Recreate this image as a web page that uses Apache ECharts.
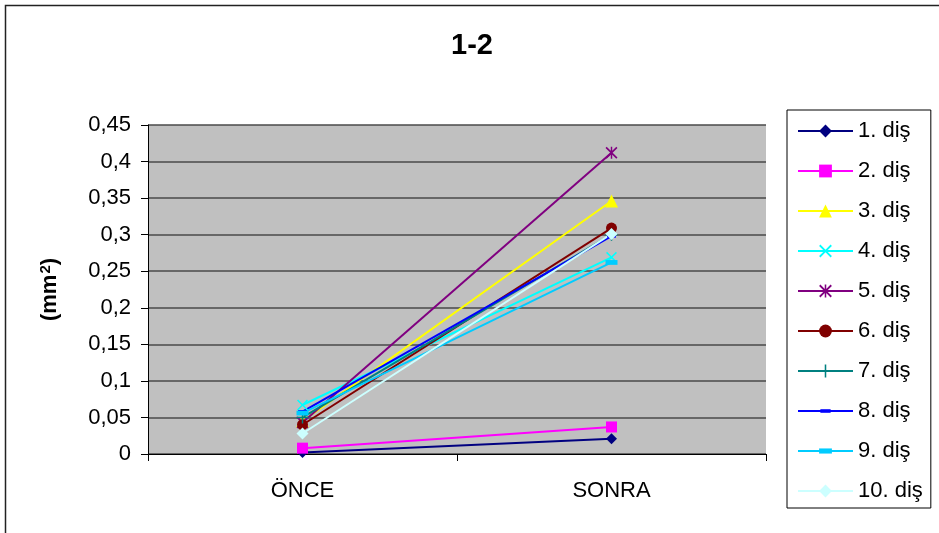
<!DOCTYPE html>
<html><head><meta charset="utf-8">
<script src="https://cdn.jsdelivr.net/npm/echarts@6/dist/echarts.min.js"></script>
<style>html,body{margin:0;padding:0;background:#fff}#c{width:939px;height:533px}</style>
</head><body><div id="c"></div>
<script>
var categories = ['ÖNCE', 'SONRA'];
var seriesNames = ['1. diş','2. diş','3. diş','4. diş','5. diş','6. diş','7. diş','8. diş','9. diş','10. diş'];
var s1 = [0.002, 0.021];
var s2 = [0.008, 0.037];
var s3 = [0.045, 0.346];
var s4 = [0.067, 0.269];
var s5 = [0.043, 0.412];
var s6 = [0.040, 0.309];
var s7 = [0.050, 0.300];
var s8 = [0.058, 0.298];
var s9 = [0.056, 0.262];
var s10 = [0.028, 0.301];
var yTicks = ['0','0,05','0,1','0,15','0,2','0,25','0,3','0,35','0,4','0,45'];

var colors = ['#000080','#FF00FF','#FFFF00','#00FFFF','#800080','#800000','#008080','#0000FF','#00CCFF','#CCFFFF'];
var X = 'path://M0,1 L1,0 L5,4 L9,0 L10,1 L6,5 L10,9 L9,10 L5,6 L1,10 L0,9 L4,5 Z';
var STAR = 'path://M0,1 L1,0 L5,4 L9,0 L10,1 L6,5 L10,9 L9,10 L5,6 L1,10 L0,9 L4,5 Z M4.4,0 L5.6,0 L5.6,10 L4.4,10 Z';
var PLUS = 'path://M4.4,0 L5.6,0 L5.6,4.4 L10,4.4 L10,5.6 L5.6,5.6 L5.6,10 L4.4,10 L4.4,5.6 L0,5.6 L0,4.4 L4.4,4.4 Z';
var DASH = 'path://M0,0 M10,10 M1,3.6 L9,3.6 L9,6.4 L1,6.4 Z';
var BAR = 'path://M0,0 M10,10 M0,3 L10,3 L10,7 L0,7 Z';
var symbols = ['diamond','rect','triangle',X,STAR,'circle',PLUS,DASH,BAR,'diamond'];
var sizes = [11,11,13,11,12,11,12,11,12,12];
var data = [s1,s2,s3,s4,s5,s6,s7,s8,s9,s10];

var FONT = 'Liberation Sans';
var chart = echarts.init(document.getElementById('c'));
var series = data.map(function(d,i){
  return {
    name: seriesNames[i], type: 'line', data: d,
    symbol: symbols[i], symbolSize: sizes[i], symbolKeepAspect: true,
    showAllSymbol: true,
    lineStyle: {color: colors[i], width: 2},
    itemStyle: {color: colors[i]},
    emphasis: {disabled: true},
    animation: false
  };
});
chart.setOption({
  animation: false,
  graphic: [
    {type: 'rect', shape: {x: 5.5, y: 5.5, width: 1000, height: 1000},
      style: {fill: 'none', stroke: '#222', lineWidth: 1.5}, z: 100, silent: true},
    {type: 'text', x: 472, y: 46, silent: true,
      style: {text: '1-2', fontFamily: FONT, fontWeight: 'bold', fontSize: 29, fill: '#000', align: 'center', verticalAlign: 'middle'}}
  ],
  legend: {
    orient: 'vertical', left: 787, top: 110,
    padding: [10, 8, 6, 10],
    itemWidth: 55, itemHeight: 16, itemGap: 18,
    backgroundColor: '#fff', borderColor: '#000', borderWidth: 1,
    textStyle: {fontFamily: FONT, fontSize: 22, color: '#000', lineHeight: 22},
    data: seriesNames
  },
  grid: {left: 148, right: 173, top: 125, bottom: 79, show: true, backgroundColor: '#C0C0C0', borderWidth: 0},
  xAxis: {
    type: 'category', data: categories, boundaryGap: true,
    axisLine: {lineStyle: {color: '#000', width: 1}},
    axisTick: {show: true, length: 7, lineStyle: {color: '#000'}},
    axisLabel: {fontFamily: FONT, fontSize: 22, color: '#000', margin: 26}
  },
  yAxis: {
    type: 'value', min: 0, max: 0.45, interval: 0.05,
    name: '(mm{s|2})', nameLocation: 'middle', nameGap: 86, nameRotate: 90,
    nameTextStyle: {fontFamily: FONT, fontWeight: 'bold', fontSize: 22, color: '#000',
      rich: {s: {fontFamily: FONT, fontWeight: 'bold', fontSize: 15, color: '#000', verticalAlign: 'top', padding: [0,0,9,1]}}},
    axisLine: {show: true, lineStyle: {color: '#000', width: 1}},
    axisTick: {show: true, length: 7, lineStyle: {color: '#000'}},
    splitLine: {show: true, lineStyle: {color: '#4a4a4a', width: 1.5}},
    axisLabel: {fontFamily: FONT, fontSize: 22, color: '#000', margin: 17,
      formatter: function(v){ var idx = Math.round(v/0.05); return yTicks[idx]; }}
  },
  series: series
});
</script></body></html>
